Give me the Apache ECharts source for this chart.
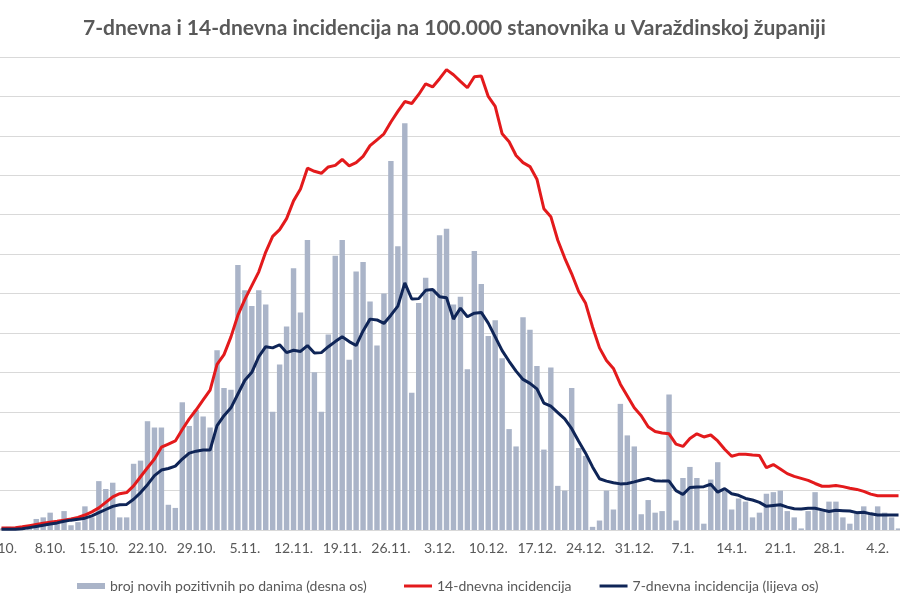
<!DOCTYPE html>
<html>
<head>
<meta charset="utf-8">
<script src="https://cdn.jsdelivr.net/npm/echarts@6/dist/echarts.min.js"></script>
<style>
html,body{margin:0;padding:0;background:#fff;}
#chart{width:900px;height:600px;}
</style>
</head>
<body>
<div id="chart"></div>
<script>
// categories: daily dates from 1.10. to 7.2.
const startDay = {year: 2020, month: 9, day: 1};
const dayCount = 130;
const categories = [];
for (let i = 0; i < dayCount; i++) {
  const d = new Date(startDay.year, startDay.month, startDay.day + i);
  categories.push(d.getDate() + '.' + (d.getMonth() + 1) + '.');
}

// daily new positive cases (right axis)
const newCases = [
  1, 2, 1, 2, 3, 7, 8, 11, 5, 12,
  3, 5, 15, 8, 31, 26, 30, 8, 8, 42,
  44, 69, 65, 65, 16, 14, 81, 66, 76, 72,
  65, 114, 90, 89, 168, 152, 142, 152, 143, 75,
  105, 129, 166, 138, 184, 100, 75, 124, 174, 184,
  108, 164, 170, 145, 117, 150, 234, 180, 258, 87,
  144, 160, 153, 187, 191, 143, 148, 102, 177, 156,
  123, 133, 109, 64, 53, 135, 127, 104, 51, 103,
  28, 25, 90, 52, 47, 2, 6, 25, 13, 80,
  60, 53, 10, 19, 11, 12, 86, 6, 33, 40,
  33, 4, 32, 43, 25, 13, 20, 18, 8, 11,
  23, 24, 25, 12, 8, 1, 12, 24, 12, 18,
  18, 8, 4, 12, 15, 11, 15, 11, 8, 1
];

// 14-day incidence per 100,000 (left axis)
const incidence14 = [
  5, 5, 6, 8, 11, 14, 17, 20, 22, 25,
  28, 32, 38, 46, 56, 70, 84, 92, 95, 112,
  135, 158, 180, 210, 218, 226, 255, 282, 305, 330,
  355, 420, 445, 490, 545, 585, 620, 655, 705, 745,
  762, 790, 835, 865, 918, 910, 905, 921, 925, 940,
  924, 932, 948, 975, 990, 1005, 1035, 1062, 1087, 1082,
  1105, 1132, 1124, 1145, 1168, 1155, 1138, 1122, 1150, 1152,
  1100, 1075, 1005, 985, 950, 932, 922, 890, 815, 795,
  735, 690, 650, 605, 575, 515, 462, 430, 410, 370,
  340, 310, 290, 262, 250, 246, 244, 218, 212, 232,
  244, 236, 241, 226, 205, 187, 192, 192, 190, 189,
  158, 166, 155, 143, 136, 131, 126, 118, 111, 111,
  113, 110, 106, 103, 98, 91, 87, 87, 87, 87
];

// 7-day incidence per 100,000 (left axis)
const incidence7 = [
  2, 2, 2, 3, 6, 9, 12, 15, 18, 22,
  25, 27, 30, 36, 44, 52, 60, 64, 65, 78,
  95, 115, 138, 152, 156, 162, 180, 195, 200, 203,
  203, 265, 290, 310, 345, 380, 400, 440, 465, 462,
  470, 450, 456, 453, 468, 449, 450, 465, 478, 490,
  478, 468, 505, 535, 533, 524, 545, 568, 627, 586,
  587, 608, 610, 592, 589, 535, 563, 541, 550, 552,
  525, 490, 455, 428, 403, 382, 372, 358, 322, 314,
  298, 282, 257, 225, 195, 160, 130, 124, 120, 117,
  118, 122, 127, 131, 125, 124, 124, 100, 90, 108,
  109, 110, 116, 96, 105, 92, 88, 80, 76, 70,
  60, 62, 64, 58, 54, 53, 55, 55, 51, 47,
  50, 49, 48, 44, 45, 41, 38, 38, 38, 38
];

const titleText = '7-dnevna i 14-dnevna incidencija na 100.000 stanovnika u Varaždinskoj županiji';
const seriesNames = ['broj novih pozitivnih po danima (desna os)', '14-dnevna incidencija', '7-dnevna incidencija (lijeva os)'];

const legendText = {fontFamily: 'Lato', fontSize: 14, color: '#595959'};

const chart = echarts.init(document.getElementById('chart'));
chart.setOption({
  animation: false,
  backgroundColor: '#ffffff',
  title: {
    text: titleText,
    left: 83,
    top: 18,
    padding: 0,
    textStyle: {fontFamily: 'Lato', fontWeight: 'bold', fontSize: 21, color: '#595959'}
  },
  legend: [
    {
      top: 574,
      left: 72,
      itemWidth: 28,
      itemHeight: 6,
      textStyle: legendText,
      data: [{name: seriesNames[0], icon: 'rect'}]
    },
    {
      top: 574,
      left: 399,
      itemWidth: 28,
      itemHeight: 3,
      itemGap: 28,
      textStyle: legendText,
      data: [{name: seriesNames[1], icon: 'rect'}, {name: seriesNames[2], icon: 'rect'}]
    }
  ],
  grid: {left: -2, right: -2, top: 57, bottom: 70, containLabel: false, outerBoundsMode: 'none'},
  xAxis: {
    type: 'category',
    data: categories,
    boundaryGap: true,
    axisLine: {lineStyle: {color: '#D9D9D9'}},
    axisTick: {show: false},
    axisLabel: {interval: 6, color: '#595959', fontFamily: 'Lato', fontSize: 14, margin: 11, hideOverlap: false}
  },
  yAxis: [
    {
      type: 'value', min: 0, max: 1200, interval: 100,
      axisLabel: {show: false}, axisLine: {show: false}, axisTick: {show: false},
      splitLine: {lineStyle: {color: '#D9D9D9', width: 1}}
    },
    {
      type: 'value', min: 0, max: 300, interval: 25, position: 'right',
      axisLabel: {show: false}, axisLine: {show: false}, axisTick: {show: false},
      splitLine: {show: false}
    }
  ],
  series: [
    {
      name: seriesNames[0], type: 'bar', yAxisIndex: 1, data: newCases,
      barWidth: '78%', itemStyle: {color: '#AAB4C8'}
    },
    {
      name: seriesNames[1], type: 'line', yAxisIndex: 0, data: incidence14,
      symbol: 'none', lineStyle: {color: '#E31A1C', width: 3}, itemStyle: {color: '#E31A1C'}
    },
    {
      name: seriesNames[2], type: 'line', yAxisIndex: 0, data: incidence7,
      symbol: 'none', lineStyle: {color: '#0F2557', width: 3}, itemStyle: {color: '#0F2557'}
    }
  ]
});
</script>
</body>
</html>
